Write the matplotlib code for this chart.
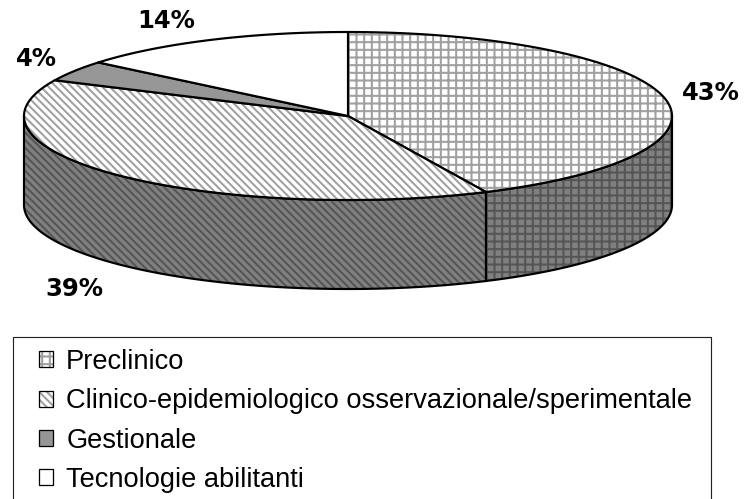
import numpy as np
import matplotlib
matplotlib.use("Agg")
import matplotlib.pyplot as plt
from matplotlib.colors import to_rgba
from matplotlib.patches import Patch, Polygon, Rectangle

categories = ["Preclinico", "Clinico-epidemiologico osservazionale/sperimentale", "Gestionale", "Tecnologie abilitanti"]
values = [43, 39, 4, 14]
labels = ["43%", "39%", "4%", "14%"]

# pixel positions of the pie
cx, cy, rx, ry, depth = 348, 116, 324, 84, 89

top_faces = ["white", "white", "#969696", "white"]
top_hatches = ["++", "\\\\\\\\", None, None]
top_hatch_colors = ["#a0a0a0", "#a0a0a0", "#969696", "white"]
side_faces = ["#808080", "#808080"]
side_hatch_colors = ["#555555", "#555555"]

plt.rcParams["hatch.linewidth"] = 1.6
plt.rcParams["font.family"] = ["Liberation Sans", "DejaVu Sans"]

dpi = 92
fig = plt.figure(figsize=(745 / dpi, 499 / dpi), dpi=dpi)
ax = fig.add_axes([0, 0, 1, 1])
ax.set_xlim(0, 745)
ax.set_ylim(499, 0)
ax.axis("off")


def arc(a0, a1, n=200):
    # angles are clockwise from the top, in degrees
    t = np.radians(np.linspace(a0, a1, n))
    return np.column_stack([cx + rx * np.sin(t), cy - ry * np.cos(t)])


def draw(pts, face, hatch=None, hatch_color=None):
    ax.add_patch(Polygon(pts, closed=True, facecolor=face, edgecolor=hatch_color or face, hatch=hatch, lw=0))
    ax.add_patch(Polygon(pts, closed=True, fill=False, edgecolor="black", lw=1.7, joinstyle="round"))


edges = np.cumsum([0] + values) * 3.6

# side wall, only the front part of the first two slices shows
for i in range(2):
    a0 = max(edges[i], 90)
    a1 = min(edges[i + 1], 270)
    front = arc(a0, a1)
    back = front[::-1] + [0, depth]
    draw(np.vstack([front, back]), side_faces[i], top_hatches[i], side_hatch_colors[i])

# top of the pie
for i in range(len(values)):
    pts = np.vstack([[cx, cy], arc(edges[i], edges[i + 1])])
    draw(pts, top_faces[i], top_hatches[i], top_hatch_colors[i])

lab_x = [711, 74, 36, 166]
lab_y = [93, 289, 59, 21]
for x, y, s in zip(lab_x, lab_y, labels):
    ax.text(x, y, s, ha="center", va="center", fontsize=19, fontweight="bold", family="DejaVu Sans")

# legend box runs past the bottom of the image
ax.add_patch(Rectangle((13, 337), 698, 200, fill=False, edgecolor="#222222", lw=0.9))

handles = [Patch(facecolor=f, edgecolor="black", hatch=h) for f, h in zip(top_faces, top_hatches)]

leg = ax.legend(
    handles,
    categories,
    loc="upper left",
    bbox_to_anchor=(39 / 745, 1 - 349 / 499),
    borderaxespad=0,
    borderpad=0,
    fontsize=21.3,
    frameon=False,
    labelspacing=0.49,
    handlelength=0.52,
    handleheight=0.52,
    handletextpad=0.48,
)
for p, c in zip(leg.get_patches(), top_hatch_colors):
    p.set_linewidth(1.0)
    p._hatch_color = to_rgba(c)

fig.savefig("out.png", dpi=dpi)
